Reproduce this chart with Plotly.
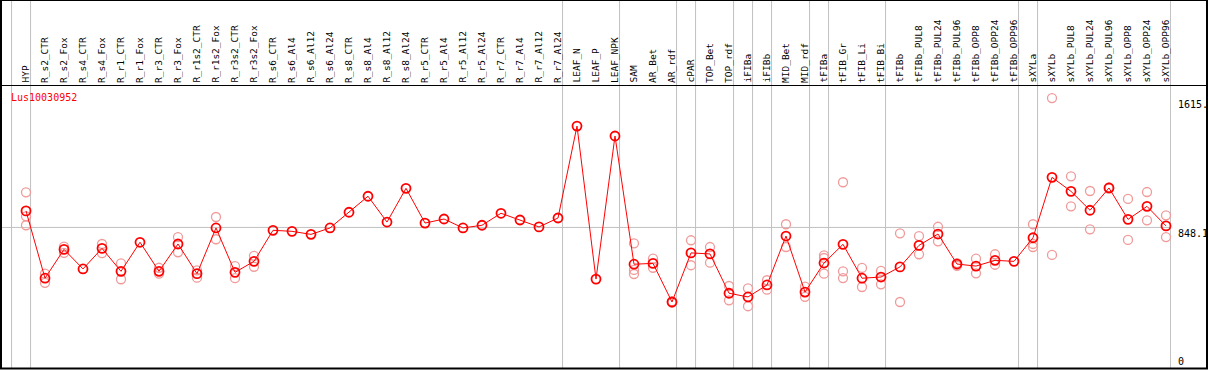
import plotly.graph_objects as go

gene_name = "Lus10030952"

categories = [
    "HYP", "R_s2_CTR", "R_s2_Fox", "R_s4_CTR", "R_s4_Fox", "R_r1_CTR", "R_r1_Fox",
    "R_r3_CTR", "R_r3_Fox", "R_r1s2_CTR", "R_r1s2_Fox", "R_r3s2_CTR", "R_r3s2_Fox",
    "R_s6_CTR", "R_s6_Al4", "R_s6_Al12", "R_s6_Al24", "R_s8_CTR", "R_s8_Al4",
    "R_s8_Al12", "R_s8_Al24", "R_r5_CTR", "R_r5_Al4", "R_r5_Al12", "R_r5_Al24",
    "R_r7_CTR", "R_r7_Al4", "R_r7_Al12", "R_r7_Al24", "LEAF_N", "LEAF_P", "LEAF_NPK",
    "SAM", "AR_Bet", "AR_rdf", "cPAR", "TOP_Bet", "TOP_rdf", "iFIBa", "iFIBb",
    "MID_Bet", "MID_rdf", "tFIBa", "tFIB_Gr", "tFIB_Li", "tFIB_Bi", "tFIBb",
    "tFIBb_PUL8", "tFIBb_PUL24", "tFIBb_PUL96", "tFIBb_OPP8", "tFIBb_OPP24",
    "tFIBb_OPP96", "sXYLa", "sXYLb", "sXYLb_PUL8", "sXYLb_PUL24", "sXYLb_PUL96",
    "sXYLb_OPP8", "sXYLb_OPP24", "sXYLb_OPP96",
]

mean_values = [
    946, 547, 718, 602, 724, 588, 760, 588, 750, 574, 845, 582, 647,
    831, 825, 807, 845, 938, 1033, 880, 1080, 874, 898, 845, 861,
    932, 892, 851, 904, 1449, 542, 1390,
    630, 635, 406, 697, 691, 458, 436, 507, 797, 465,
    637, 748, 547, 554, 614, 742, 809, 631, 619, 653, 647,
    787, 1145, 1062, 950, 1082, 896, 973, 857,
]

replicate_values = [
    [1056, 914, 861], [574, 520], [734, 697], [], [750, 696], [635, 541], [],
    [609, 574], [791, 701], [594, 550], [910, 778], [619, 547], [680, 615],
    [], [], [], [], [], [], [], [], [], [], [], [],
    [], [], [], [], [], [], [],
    [754, 596, 572], [663, 609], [402, 410], [772, 624], [732, 639],
    [501, 416], [487, 381], [535, 479], [867, 732], [497, 437],
    [683, 667, 574], [1116, 588, 548], [608, 495], [590, 511], [813, 406],
    [797, 689], [852, 766], [637, 621], [663, 576], [689, 627], [],
    [867, 750, 732], [1615, 685], [1151, 973], [1064, 837], [1086, 1078],
    [1017, 774], [1058, 890], [920, 791],
]

# index of the last category of each group (grid line drawn just after it)
group_boundaries = [-1, 0, 28, 31, 34, 35, 37, 38, 39, 41, 42, 45, 52, 53, 60]

y_tick_values = [0, 848.1, 1615]
y_tick_labels = ["0", "848.1", "1615."]

W, H = 1209, 370
ML, MR, MT, MB = 1, 38, 85, 1
PW = W - ML - MR
PH = H - MT - MB

x0 = -25.0 / 19.0
x1 = x0 + PW / 19.0
y_range = [8.9, 1692.4]

def px_to_paper_x(px):
    return (px - ML) / PW

def py_to_paper_y(py):
    return (H - MB - py) / PH

xs = list(range(len(categories)))

rep_x, rep_y = [], []
for i, reps in enumerate(replicate_values):
    for v in reps:
        rep_x.append(i)
        rep_y.append(v)

fig = go.Figure()
fig.add_trace(go.Scatter(
    x=rep_x, y=rep_y, mode="markers",
    marker=dict(symbol="circle-open", size=9, color="#f09a9a",
                line=dict(width=1.3, color="#f09a9a")),
    cliponaxis=False, showlegend=False, hoverinfo="skip",
))
fig.add_trace(go.Scatter(
    x=xs, y=mean_values, mode="lines+markers",
    line=dict(color="#ff0000", width=1),
    marker=dict(symbol="circle-open", size=9, color="#ff0000",
                line=dict(width=1.8, color="#ff0000")),
    cliponaxis=False, showlegend=False,
))

shapes = []
for b in group_boundaries:
    shapes.append(dict(type="line", xref="x", yref="paper",
                       x0=b + 0.24, x1=b + 0.24,
                       y0=py_to_paper_y(369), y1=py_to_paper_y(0),
                       line=dict(color="#c0c0c0", width=1), layer="below"))
shapes.append(dict(type="line", xref="paper", yref="y",
                   x0=0, x1=px_to_paper_x(1170),
                   y0=y_tick_values[1], y1=y_tick_values[1],
                   line=dict(color="#c0c0c0", width=1), layer="below"))
# outer frame
shapes.append(dict(type="rect", xref="paper", yref="paper",
                   x0=px_to_paper_x(1), x1=px_to_paper_x(1207),
                   y0=py_to_paper_y(368.5), y1=py_to_paper_y(0),
                   line=dict(color="#000000", width=2), layer="above"))
shapes.append(dict(type="line", xref="paper", yref="paper",
                   x0=px_to_paper_x(1), x1=px_to_paper_x(1207),
                   y0=py_to_paper_y(85.5), y1=py_to_paper_y(85.5),
                   line=dict(color="#000000", width=1), layer="above"))

annotations = []
for i, name in enumerate(categories):
    annotations.append(dict(
        x=i, y=1, xref="x", yref="paper", text=name, textangle=-90,
        xanchor="center", yanchor="bottom", showarrow=False, xshift=-1, yshift=0,
        font=dict(family="DejaVu Sans Mono", size=9.5, color="#000000"),
    ))

annotations.append(dict(
    x=px_to_paper_x(9), y=py_to_paper_y(97.5), xref="paper", yref="paper",
    text=gene_name, xanchor="left", yanchor="middle", showarrow=False,
    font=dict(family="DejaVu Sans Mono", size=10, color="#ff0000"),
))

for v, lab in zip(y_tick_values, y_tick_labels):
    if v < y_range[0]:
        annotations.append(dict(
            x=px_to_paper_x(1176), y=0, xref="paper", yref="paper", text=lab,
            xanchor="left", yanchor="bottom", showarrow=False, yshift=0,
            font=dict(family="DejaVu Sans Mono", size=10, color="#000000"),
        ))
    else:
        annotations.append(dict(
            x=px_to_paper_x(1176), y=v, xref="paper", yref="y", text=lab,
            xanchor="left", yanchor="top", showarrow=False, yshift=1,
            font=dict(family="DejaVu Sans Mono", size=10, color="#000000"),
        ))

fig.update_layout(
    width=W, height=H, autosize=False,
    margin=dict(l=ML, r=MR, t=MT, b=MB, pad=0),
    paper_bgcolor="white", plot_bgcolor="white",
    xaxis=dict(range=[x0, x1], showgrid=False, zeroline=False, showline=False,
               showticklabels=False, ticks="", fixedrange=True),
    yaxis=dict(range=y_range, showgrid=False, zeroline=False, showline=False,
               showticklabels=False, ticks="", fixedrange=True),
    shapes=shapes, annotations=annotations, showlegend=False,
)

fig.write_html(
    "out.html",
    config={"displayModeBar": False},
    post_script="document.body.style.margin='0';document.body.style.overflow='hidden';",
)
